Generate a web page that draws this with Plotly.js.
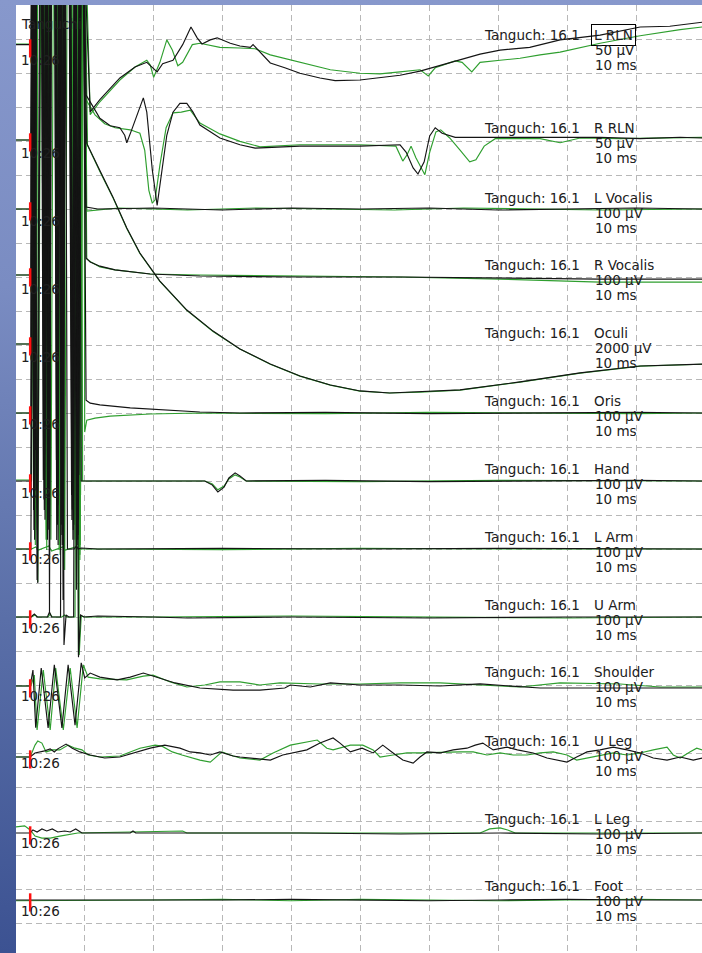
<!DOCTYPE html>
<html><head><meta charset="utf-8">
<script src="https://cdn.plot.ly/plotly-3.0.1.min.js"></script>
<style>
html,body{margin:0;padding:0;width:702px;height:953px;overflow:hidden;
background:linear-gradient(to bottom,#8798cc 0%,#7a8cc2 30%,#5a6fa8 65%,#3c5292 100%);}
#chart{width:702px;height:953px;}
</style></head><body><div id="chart"></div><script>
// ---------- DATA ----------
const channelNames = ["L RLN","R RLN","L Vocalis","R Vocalis","Oculi","Oris","Hand","L Arm","U Arm","Shoulder","U Leg","L Leg","Foot"];
const sensitivity = [50,50,100,100,2000,100,100,100,100,100,100,100,100]; // µV per division
const sweepText = "10 ms";
const headerText = "Tanguch: 16.1";
const clockText = "10:26";
const patientText = "Tanguchi";
const stimTime = 2.2; // ms

// [time ms, amplitude µV] — black = current sweep, green = reference sweep
const lRLN_k = [[0.1,2],[2.3,2],[2.5,200],[2.8,-623],[3.0,200],[3.9,200],[4.2,-667],[4.5,200],[4.8,-697],[5.1,200],[5.8,200],[6.1,-638],[6.4,200],[6.8,-719],[7.2,200],[7.9,200],[8.3,-682],[8.7,200],[9.1,-726],[9.5,200],[9.8,200],
 [10.9,-97],[12.3,-79],[13.8,-62],[15.2,-47],[17.4,-31],[19.1,-24],[20.6,-38],[21.4,-26],[22.9,-21],[24.3,2],[25.5,28],[26.4,12],[27.1,3],[28.3,9],[29.3,12],[31.2,4],[32.6,0],[34.1,-2],[34.5,2],[35.5,-9],[37.0,-25],[39.1,-32],[41.3,-40],[44.2,-47],[46.4,-51],[50.0,-50],[52.9,-46],[55.8,-43],[58.7,-37],[61.6,-29],[64.5,-21],[67.4,-12],[70.3,-6],[74.6,-2],[79.0,9],[84.8,16],[90.6,28],[94.9,29],[99.6,35]];
const lRLN_g = [[0.1,3],[2.4,3],[2.7,200],[3.0,-667],[3.2,200],[4.1,200],[4.5,-726],[4.9,200],[6.0,200],[6.5,-623],[6.9,200],[8.1,200],[8.6,-704],[9.0,200],[9.4,-748],[9.8,200],[10.1,200],
 [10.9,-101],[12.3,-82],[13.8,-65],[15.2,-50],[17.4,-31],[19.1,-21],[19.6,-28],[20.1,-46],[21.0,-24],[22.0,9],[22.8,-6],[23.6,-29],[24.3,-24],[25.7,2],[26.8,4],[29.7,-2],[32.6,-3],[34.8,-4],[37.0,-13],[41.3,-24],[45.7,-35],[50.0,-40],[52.9,-41],[55.8,-38],[58.7,-35],[59.9,-44],[60.9,-32],[63.8,-22],[64.8,-24],[66.2,-38],[67.4,-24],[70.3,-21],[73.2,-18],[76.1,-13],[79.0,-9],[84.8,4],[90.6,15],[96.4,24],[99.6,28]];

const rRLN_k = [[0.1,0],[2.3,0],[2.6,350],[2.9,-515],[3.1,350],[4.0,350],[4.3,-463],[4.6,350],[4.9,-573],[5.2,350],[5.9,350],[6.2,-537],[6.5,350],[6.9,-485],[7.3,350],[8.0,350],[8.4,-588],[8.8,350],[9.2,-559],[9.6,350],[9.9,350],
 [10.3,66],[11.2,51],[12.3,32],[13.8,21],[15.2,18],[15.9,7],[16.2,-4],[16.8,12],[17.7,37],[18.6,62],[19.1,41],[19.9,-44],[20.6,-96],[21.3,-44],[22.0,7],[22.9,41],[23.9,54],[24.9,54],[25.8,41],[26.8,22],[29.7,3],[32.6,-7],[34.8,-12],[41.3,-9],[50.0,-9],[55.8,-7],[56.7,-18],[57.7,-41],[58.4,-50],[59.3,-32],[60.1,6],[60.9,18],[61.9,10],[63.8,4],[67.4,4],[73.2,4],[79.0,3],[84.8,4],[90.6,2],[96.4,4],[99.6,3]];
const rRLN_g = [[0.1,0],[2.4,0],[2.6,350],[2.9,-559],[3.1,350],[4.0,350],[4.4,-500],[4.8,350],[5.9,350],[6.4,-603],[6.8,350],[8.0,350],[8.5,-529],[8.9,350],[9.3,-581],[9.7,350],[10.0,350],
 [10.3,59],[11.6,37],[13.0,24],[14.5,18],[16.7,15],[18.1,10],[18.8,-15],[19.4,-74],[19.9,-93],[20.3,-88],[21.0,-37],[21.9,18],[22.9,40],[24.1,41],[25.4,44],[26.8,25],[29.7,9],[32.6,-2],[35.5,-10],[41.3,-7],[50.0,-7],[55.2,-9],[55.8,-21],[56.2,-31],[56.8,-22],[57.4,-9],[58.1,-26],[59.4,-51],[60.1,-18],[61.0,12],[61.7,15],[63.0,3],[64.5,-15],[65.9,-32],[66.8,-29],[68.0,-9],[69.6,2],[76.1,2],[79.0,-4],[81.9,3],[87.7,2],[99.6,4]];

const lVoc_k = [[0.1,0],[2.3,0],[2.4,900],[2.7,-885],[2.9,900],[3.8,900],[4.1,-797],[4.4,900],[4.7,-973],[5.0,900],[5.7,900],[6.0,-738],[6.3,900],[6.7,-929],[7.1,900],[7.8,900],[8.2,-841],[8.6,900],[9.0,-988],[9.4,900],[9.7,900],
 [10.3,6],[12,0],[20,3],[30,-3],[40,3],[50,0],[60,3],[70,-3],[80,0],[90,3],[99.6,0]];
const lVoc_g = [[0.1,0],[2.4,0],[2.8,900],[3.1,-797],[3.3,900],[4.2,900],[4.6,-1003],[5.0,900],[6.1,900],[6.6,-885],[7.0,900],[8.2,900],[8.7,-973],[9.1,900],[9.5,-841],[9.9,900],[10.1,900],
 [10.4,-6],[15,3],[25,-3],[35,3],[45,0],[55,-3],[65,3],[75,0],[85,-3],[99.6,0]];

const rVoc_k = [[0.1,0],[2.3,0],[2.65,1100],[2.95,-515],[3.15,1100],[4.05,1100],[4.35,-720],[4.65,1100],[4.95,-632],[5.25,1100],[5.95,1100],[6.25,-794],[6.55,1100],[6.95,-662],[7.35,1100],[8.05,1100],[8.45,-750],[8.85,1100],[9.25,-588],[9.65,1100],[9.95,1100],
 [10.3,50],[10.9,38],[12.3,26],[14.5,15],[16.7,9],[19.6,3],[26.8,-3],[41.3,-6],[55.8,-6],[70.3,-9],[84.8,-12],[99.6,-12]];
const rVoc_g = [[0.1,0],[2.4,0],[2.65,1100],[2.95,-794],[3.15,1100],[4.05,1100],[4.45,-662],[4.85,1100],[5.95,1100],[6.45,-750],[6.85,1100],[8.05,1100],[8.55,-573],[8.95,1100],[9.35,-823],[9.75,1100],[10.0,1100],
 [10.4,47],[11.0,38],[12.3,24],[14.5,15],[16.7,9],[19.6,3],[26.8,0],[41.3,-3],[55.8,-6],[70.3,-12],[79.0,-18],[84.8,-21],[99.6,-21]];

const oculi_k = [[0.1,0],[2.3,0],[2.45,25000],[2.75,-10937],[2.95,25000],[3.85,25000],[4.15,-7409],[4.45,25000],[4.75,-9467],[5.05,25000],[5.75,25000],[6.05,-11525],[6.35,25000],[6.75,-8291],[7.15,25000],[7.85,25000],[8.25,-10349],[8.65,25000],[9.05,-9173],[9.45,25000],[9.75,25000],
 [10.4,11800],[12.3,10200],[14.2,8640],[16.2,6820],[18.1,5350],[21.0,3700],[24.9,2000],[28.7,760],[32.6,-290],[37.0,-1180],[41.3,-1880],[45.7,-2410],[50.0,-2760],[54.3,-2880],[58.7,-2820],[64.5,-2700],[73.2,-2230],[81.9,-1700],[90.6,-1290],[99.6,-1180]];
const oculi_g = [[0.1,0],[2.4,0],[2.75,25000],[3.05,-8585],[3.25,25000],[4.15,25000],[4.55,-10937],[4.95,25000],[6.05,25000],[6.55,-12407],[6.95,25000],[8.15,25000],[8.65,-9761],[9.05,25000],[9.45,-11819],[9.85,25000],[10.1,25000],
 [10.5,11700],[12.3,10150],[14.2,8600],[16.2,6800],[18.1,5330],[21.0,3680],[24.9,1980],[28.7,740],[32.6,-300],[37.0,-1190],[41.3,-1890],[45.7,-2420],[50.0,-2770],[54.3,-2880],[58.7,-2830],[64.5,-2710],[73.2,-2240],[81.9,-1710],[90.6,-1300],[99.6,-1190]];

const oris_k = [[0.1,0],[2.3,0],[2.55,1500],[2.85,-373],[3.05,1500],[3.95,1500],[4.25,-285],[4.55,1500],[4.85,-197],[5.15,1500],[5.85,1500],[6.15,-329],[6.45,1500],[6.85,-388],[7.25,1500],[7.95,1500],[8.35,-168],[8.75,1500],[9.15,-359],[9.55,1500],[9.85,1500],
 [10.3,38],[10.9,29],[12.3,24],[16.7,15],[21.0,9],[26.8,3],[32.6,0],[45,2],[60,-2],[75,0],[90,2],[99.6,0]];
const oris_g = [[0.1,0],[2.4,0],[2.7,1500],[3.0,-344],[3.2,1500],[4.1,1500],[4.5,-168],[4.9,1500],[6.0,1500],[6.5,-388],[6.9,1500],[8.1,1500],[8.6,-270],[9.0,1500],[9.4,-432],[9.8,1500],[10.0,1500],
 [10.1,-56],[10.4,-21],[11.6,-15],[13.8,-9],[19.6,-3],[26.8,0],[45,-2],[60,2],[75,0],[90,-2],[99.6,0]];

const hand_k = [[0.1,0],[2.3,0],[2.7,1700],[3.2,-291],[3.6,1700],[4.6,1700],[5.0,-232],[5.3,1700],[6.6,1700],[7.0,-350],[7.3,1700],[8.5,1700],[8.9,-320],[9.3,1700],[9.6,0],
 [10.3,0],[20,2],[27.5,0],[28.6,-12],[29.4,-32],[30.3,-18],[31.0,9],[31.9,24],[32.6,15],[33.5,0],[45,2],[60,-2],[75,0],[90,2],[99.6,0]];
const hand_g = [[0.1,3],[2.4,3],[2.9,1700],[3.3,-297],[3.8,1700],[4.8,1700],[5.2,-173],[5.6,1700],[6.8,1700],[7.2,-262],[7.6,1700],[8.8,1700],[9.2,-512],[9.6,1700],[9.8,0],
 [10.4,0],[27.5,0],[28.6,-9],[29.4,-26],[30.3,-15],[31.0,6],[31.9,18],[32.6,12],[33.5,0],[50,-2],[70,2],[99.6,0]];

const lArm_k = [[0.1,0],[2.3,0],[2.8,1900],[3.3,-100],[3.7,1900],[4.7,1900],[5.0,-185],[5.3,1900],[6.7,1900],[7.0,-150],[7.3,1900],[7.6,0],[8.6,0],[8.9,9],[9.2,0],[9.6,3],[12,0],[30,2],[50,0],[70,2],[99.6,0]];
const lArm_g = [[0.1,0],[2.4,0],[3.0,6],[3.4,-3],[4.9,9],[5.3,-6],[6.9,6],[7.3,-3],[8.8,6],[9.2,0],[10.4,0],[30,-2],[50,2],[70,0],[99.6,0]];

const uArm_k = [[0.1,0],[2.3,0],[2.8,9],[3.2,0],[4.7,0],[5.0,15],[5.3,0],[6.6,0],[6.8,2100],[7.1,-82],[7.4,6],[7.8,0],[8.5,0],[8.8,2100],[9.2,-118],[9.5,6],[10.0,0],[12,3],[20,0],[25,-3],[40,0],[60,-3],[80,0],[99.6,0]];
const uArm_g = [[0.1,0],[2.4,0],[2.9,6],[3.3,0],[4.8,0],[5.1,9],[5.4,0],[6.8,0],[7.2,6],[7.5,0],[8.7,0],[9.0,2100],[9.3,-112],[9.6,3],[10.0,0],[20,0],[40,3],[60,0],[80,-3],[99.6,0]];

const shoulder_k = [[0.1,0],[2.2,0],[2.6,47],[3.0,-123],[3.8,53],[4.8,-123],[5.7,62],[6.8,-123],[7.7,62],[8.7,-115],[9.6,68],[10.1,24],[10.9,38],[12.3,26],[14.8,18],[16.7,26],[18.6,38],[20.6,26],[23.2,9],[26.8,-6],[31.6,-12],[35.5,-12],[39.1,-6],[39.9,3],[42.8,-3],[45.7,9],[50.0,3],[55.8,3],[61.6,0],[67.4,6],[76.1,-6],[84.8,-6],[92.0,-6],[99.6,-6]];
const shoulder_g = [[0.1,0],[2.3,0],[2.8,32],[3.2,-129],[4.1,47],[5.1,-129],[5.9,53],[7.0,-129],[8.0,53],[9.0,-123],[9.9,62],[10.6,26],[12.3,21],[16.2,18],[18.6,29],[20.0,32],[22.5,12],[24.9,-3],[27.5,3],[29.7,12],[32.6,12],[35.5,3],[38.4,9],[44.2,6],[50.0,6],[55.8,9],[61.6,9],[67.4,3],[73.2,-3],[79.0,9],[87.7,6],[93.5,-3],[99.6,-3]];

const uLeg_k = [[0.1,0],[2.2,0],[2.9,12],[3.6,15],[4.3,18],[5.1,24],[5.7,15],[6.2,24],[6.8,32],[7.4,38],[8.3,26],[9.4,15],[10.9,6],[13.0,-3],[15.2,0],[17.4,12],[19.6,26],[21.7,35],[23.9,26],[25.4,15],[26.8,12],[28.3,6],[29.7,15],[31.6,3],[32.6,0],[37.0,-9],[38.8,6],[42.3,21],[44.2,41],[46.1,56],[47.1,41],[48.6,15],[50.3,26],[51.9,12],[53.3,35],[54.8,12],[56.2,-9],[57.7,-18],[58.7,0],[59.7,15],[61.6,12],[63.5,21],[65.5,26],[66.7,35],[67.8,41],[69.3,21],[71.3,29],[72.8,21],[75.1,12],[77.1,-3],[80.0,-15],[81.4,0],[82.9,15],[84.8,21],[86.7,29],[88.7,21],[90.6,12],[92.5,-3],[94.5,-9],[96.4,0],[98.3,-9],[99.6,-3]];
const uLeg_g = [[0.1,0],[2.2,0],[2.9,35],[3.3,47],[3.9,41],[4.5,15],[5.4,21],[6.5,21],[7.7,35],[8.7,26],[9.7,21],[10.6,6],[12.3,0],[15.2,3],[18.1,26],[20.3,35],[21.3,32],[22.8,15],[24.2,6],[26.8,-9],[28.3,-15],[29.1,0],[30.0,15],[31.2,6],[32.6,-3],[35.5,-9],[37.4,12],[39.9,35],[42.3,44],[43.8,50],[45.2,26],[46.1,21],[48.6,35],[50.4,35],[51.9,21],[52.9,0],[54.8,6],[56.8,12],[58.7,12],[62.6,15],[64.5,15],[66.4,15],[68.4,6],[70.3,12],[72.2,6],[74.2,6],[76.1,12],[78.0,15],[80.0,6],[81.4,-9],[82.9,-3],[84.8,6],[86.7,12],[88.7,6],[90.6,12],[92.5,21],[94.5,29],[95.4,6],[96.4,-3],[97.8,15],[98.8,26],[99.6,21]];

const lLeg_k = [[0.1,0],[2.2,0],[2.6,9],[3.2,3],[3.9,12],[4.6,6],[5.4,12],[6.2,3],[7.2,6],[8.0,3],[8.8,12],[9.7,0],[16.7,0],[17.1,6],[17.5,0],[41.3,0],[55.8,-3],[70.3,0],[84.8,-3],[99.6,0]];
const lLeg_g = [[0.1,18],[1.4,21],[2.2,9],[2.9,-9],[3.9,-15],[5.1,-15],[6.5,-9],[8.0,-3],[9.1,0],[24.3,6],[24.9,0],[67.4,0],[68.8,12],[70.3,15],[71.4,9],[72.5,0],[99.6,0]];

const foot_k = [[0.1,0],[2.4,0],[10,0],[20,-2],[30,0],[40,2],[50,0],[60,-2],[70,0],[80,2],[90,0],[99.6,0]];
const foot_g = [[0.1,-2],[2.4,-2],[3,0],[20,0],[30,2],[40,-2],[50,2],[60,0],[70,-2],[80,0],[90,2],[99.6,0]];

const blackSweeps = [lRLN_k,rRLN_k,lVoc_k,rVoc_k,oculi_k,oris_k,hand_k,lArm_k,uArm_k,shoulder_k,uLeg_k,lLeg_k,foot_k];
const greenSweeps = [lRLN_g,rRLN_g,lVoc_g,rVoc_g,oculi_g,oris_g,hand_g,lArm_g,uArm_g,shoulder_g,uLeg_g,lLeg_g,foot_g];

// ---------- LAYOUT (positions in screen divisions from top) ----------
const rowPos   = [1.206,3.971,6.0,7.941,9.971,12.0,14.0,16.0,18.0,20.029,22.118,24.353,26.324];
const labelPos = [0.882,3.618,5.676,7.647,9.647,11.647,13.647,15.647,17.647,19.618,21.647,23.941,25.912];
const clockPos = [1.618,4.353,6.353,8.353,10.353,12.324,14.353,16.294,18.324,20.324,22.294,24.647,26.647];
const lineStep = 0.441;

const BLACK = "#141414", GREEN = "#2f9f2f", TXT = "#202020";
const FONT = {family:"DejaVu Sans, Verdana, sans-serif", size:13.5, color:TXT};

const traces = [];
// reference (green) sweeps first, current (black) sweeps drawn on top
for (let i = 0; i < channelNames.length; i++) {
  const g = greenSweeps[i];
  traces.push({type:"scatter", mode:"lines", x:g.map(p=>p[0]), y:g.map(p=>rowPos[i]-p[1]/sensitivity[i]),
    line:{color:GREEN, width:1.15}, hoverinfo:"skip"});
}
for (let i = 0; i < channelNames.length; i++) {
  const k = blackSweeps[i];
  traces.push({type:"scatter", mode:"lines", x:k.map(p=>p[0]), y:k.map(p=>rowPos[i]-p[1]/sensitivity[i]),
    line:{color:BLACK, width:1.15}, hoverinfo:"skip"});
}
traces.push({type:"scatter", mode:"markers", x:rowPos.map(()=>stimTime), y:rowPos.map(r=>r+0.07),
  marker:{symbol:"line-ns", size:13, line:{color:"#ff1010", width:2.5}}, hoverinfo:"skip"});

const ann = [];
const xHead = 67.7, xLab = 83.8, xClock = 0.6;
ann.push({x:xClock, y:0.559, xref:"x", yref:"y", text:patientText, showarrow:false, xanchor:"left", yanchor:"middle", font:FONT});
for (let i = 0; i < channelNames.length; i++) {
  ann.push({x:xHead, y:labelPos[i], xref:"x", yref:"y", text:headerText, showarrow:false, xanchor:"left", yanchor:"middle", font:FONT});
  const boxed = i === 0;
  ann.push({x: boxed ? 83.5 : xLab, y:labelPos[i], xref:"x", yref:"y", text:channelNames[i], showarrow:false, xanchor:"left", yanchor:"middle", font:FONT,
    bordercolor: boxed ? "#000" : "rgba(0,0,0,0)", borderwidth: boxed ? 1 : 0, borderpad: boxed ? 2 : 1});
  ann.push({x:xLab, y:labelPos[i]+lineStep, xref:"x", yref:"y", text:sensitivity[i]+" µV", showarrow:false, xanchor:"left", yanchor:"middle", font:FONT});
  ann.push({x:xLab, y:labelPos[i]+2*lineStep, xref:"x", yref:"y", text:sweepText, showarrow:false, xanchor:"left", yanchor:"middle", font:FONT});
  ann.push({x:xClock, y:clockPos[i], xref:"x", yref:"y", text:clockText, showarrow:false, xanchor:"left", yanchor:"middle", font:FONT});
}

const gridStyle = {showgrid:true, gridcolor:"#b8b8b8", gridwidth:1, griddash:"6px,4px", zeroline:false, showline:false,
  showticklabels:false, ticks:"", fixedrange:true};
const layout = {
  width:702, height:953, margin:{l:16, r:0, t:5, b:0, pad:0},
  paper_bgcolor:"rgba(0,0,0,0)", plot_bgcolor:"#ffffff", showlegend:false,
  xaxis: Object.assign({range:[0.145, 99.565], tick0:0, dtick:10}, gridStyle),
  yaxis: Object.assign({range:[27.882, 0], tick0:0, dtick:1}, gridStyle),
  annotations: ann
};
Plotly.newPlot("chart", traces, layout, {staticPlot:true, displayModeBar:false});
</script></body></html>
